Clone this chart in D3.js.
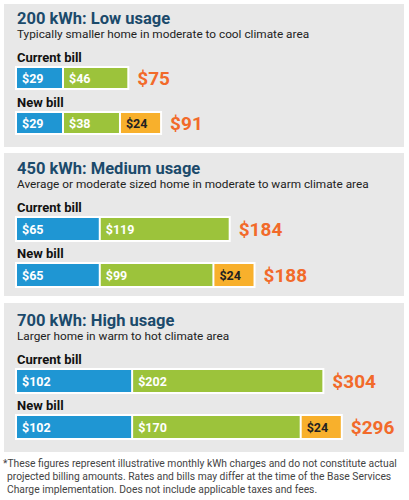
<!DOCTYPE html><html><head><meta charset="utf-8"><script src="https://d3js.org/d3.v7.min.js"></script>
<style>body{margin:0;background:#fff}svg{display:block;font-family:Roboto,"Liberation Sans",sans-serif}</style></head><body><svg id="c" width="409" height="500"></svg>
<script>
const titles=["200 kWh: Low usage","450 kWh: Medium usage","700 kWh: High usage"];
const subtitles=["Typically smaller home in moderate to cool climate area","Average or moderate sized home in moderate to warm climate area","Larger home in warm to hot climate area"];
const barLabels=["Current bill","New bill"];
const currentBill=[[29,46],[65,119],[102,202]];
const newBill=[[29,38,24],[65,99,24],[102,170,24]];
const currentTotal=[75,184,304];
const newTotal=[91,188,296];
const footnote=["*These figures represent illustrative monthly kWh charges and do not constitute actual","projected billing amounts. Rates and bills may differ at the time of the Base Services","Charge implementation. Does not include applicable taxes and fees."];
const colors=["#1f96d3","#9cc33b","#f8b02c"];
const textColors=["#fff","#fff","#222"];
const svg=d3.select("#c");
const w=d3.scalePow().exponent(0.74).domain([0,29]).range([0,45]);
const panelTop=[4,153,303],panelH=[143,143,149];
const g0=[0,150,302];
titles.forEach((t,i)=>{
  const g=svg.append("g").attr("transform",`translate(0,${g0[i]})`);
  g.append("rect").attr("x",4).attr("y",panelTop[i]-g0[i]).attr("width",400).attr("height",panelH[i]).attr("fill","#e8e8e8");
  g.append("text").attr("x",17).attr("y",24).attr("font-size",16.5).attr("font-weight",700).attr("fill","#1b4a6b").text(t);
  g.append("text").attr("x",17).attr("y",38).attr("font-size",11.8).attr("fill","#222").text(subtitles[i]);
  const rows=[[currentBill[i],currentTotal[i]],[newBill[i],newTotal[i]]];
  rows.forEach(([vals,tot],r)=>{
    const ly=[[62,107],[62,108],[62,108]][i][r];
    const by=ly+6, bh=i===0?20:22;
    g.append("text").attr("x",17).attr("y",ly).attr("font-size",13).attr("font-weight",700).attr("fill","#111").text(barLabels[r]);
    let x=17;const segs=vals.map(v=>{const s={v,x,wd:w(v)};x+=s.wd+2;return s;});
    g.append("rect").attr("x",15).attr("y",by-2).attr("width",x-15).attr("height",bh+4).attr("fill","#fff");
    segs.forEach((s,k)=>{
      g.append("rect").attr("x",s.x).attr("y",by).attr("width",s.wd).attr("height",bh).attr("fill",colors[k]);
      g.append("text").attr("x",s.x+5).attr("y",by+bh/2+4.5).attr("font-size",12.5).attr("font-weight",700).attr("fill",textColors[k]).text("$"+s.v);
    });
    g.append("text").attr("x",x+8).attr("y",by+bh/2+6.5).attr("font-size",19).attr("font-weight",700).attr("fill","#f26a2a").text("$"+tot);
  });
});
footnote.forEach((f,i)=>svg.append("text").attr("x",i?7:3).attr("y",467+i*13).attr("font-size",10.3).attr("fill","#444").text(f));
</script></body></html>
